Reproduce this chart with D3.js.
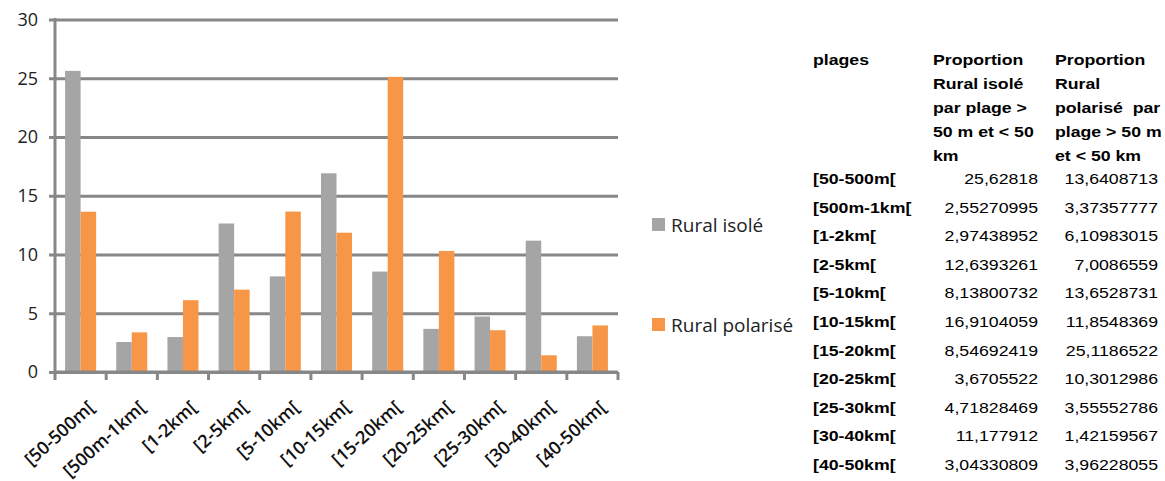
<!DOCTYPE html>
<html>
<head>
<meta charset="utf-8">
<title>Rural isolé / Rural polarisé</title>
<script src="https://d3js.org/d3.v7.min.js"></script>
<style>
  body { margin: 0; background: #fff; }
  svg text { font-family: "Open Sans", sans-serif; }
  svg text.tbl { font-family: "Liberation Sans", Arial, sans-serif; fill: #000; }
</style>
</head>
<body>
<svg id="chart" width="1165" height="481"></svg>
<script>
// data
var plages = ["[50-500m[", "[500m-1km[", "[1-2km[", "[2-5km[", "[5-10km[", "[10-15km[",
              "[15-20km[", "[20-25km[", "[25-30km[", "[30-40km[", "[40-50km["];
var ruralIsole = [25.62818, 2.55270995, 2.97438952, 12.6393261, 8.13800732, 16.9104059,
                  8.54692419, 3.6705522, 4.71828469, 11.177912, 3.04330809];
var ruralPolarise = [13.6408713, 3.37357777, 6.10983015, 7.0086559, 13.6528731, 11.8548369,
                     25.1186522, 10.3012986, 3.55552786, 1.42159567, 3.96228055];
var yTicks = [0, 5, 10, 15, 20, 25, 30];
var seriesNames = ["Rural isolé", "Rural polarisé"];
var seriesColors = ["#a5a5a5", "#f79646"];
var headPlages = ["plages"];
var headIsole = ["Proportion", "Rural isolé", "par plage >", "50 m et < 50", "km"];
var headPolarise = ["Proportion", "Rural", "polarisé  par", "plage > 50 m", "et < 50 km"];

var svg = d3.select("#chart");
svg.append("rect").attr("width", 1165).attr("height", 481).attr("fill", "#fff");

var x0 = 55, x1 = 618, yBase = 372, yTop = 19.5;

var x = d3.scaleBand().domain(plages).range([x0, x1]).paddingInner(0).paddingOuter(0);
var xs = d3.scaleBand().domain([0, 1]).range([0, x.bandwidth()]).paddingInner(0).paddingOuter(0.65);
var y = d3.scaleLinear().domain([0, 30]).range([yBase, yTop]);

// gridlines
var gy = svg.append("g").attr("transform", "translate(" + x1 + ",0)")
  .call(d3.axisLeft(y).tickValues(yTicks).tickSize(x1 - x0 + 6).tickFormat(""));
gy.select(".domain").remove();
gy.selectAll("line").attr("stroke", "#878787").attr("stroke-width", 3);

// y labels
svg.append("g").selectAll("text").data(yTicks).enter().append("text")
  .attr("x", 38).attr("y", function(d) { return y(d); })
  .attr("dy", "0.36em")
  .attr("text-anchor", "end")
  .attr("font-size", 18)
  .attr("fill", "#222")
  .text(function(d) { return d; });

// vertical axis line
svg.append("line").attr("x1", x0).attr("x2", x0).attr("y1", yTop - 1.5).attr("y2", yBase + 1.5)
  .attr("stroke", "#878787").attr("stroke-width", 3);

// bars
var groups = svg.append("g").selectAll("g").data(plages).enter().append("g")
  .attr("transform", function(d) { return "translate(" + x(d) + ",0)"; });

groups.selectAll("rect").data(function(d, i) { return [ruralIsole[i], ruralPolarise[i]]; })
  .enter().append("rect")
  .attr("x", function(d, j) { return xs(j); })
  .attr("width", xs.bandwidth())
  .attr("y", function(d) { return y(d); })
  .attr("height", function(d) { return yBase - y(d); })
  .attr("fill", function(d, j) { return seriesColors[j]; });

// x axis line and ticks
svg.append("line").attr("x1", x0).attr("x2", x1).attr("y1", yBase).attr("y2", yBase)
  .attr("stroke", "#878787").attr("stroke-width", 3);
var edges = plages.map(function(d) { return x(d); }).concat([x1]);
svg.append("g").selectAll("line").data(edges).enter().append("line")
  .attr("x1", function(d) { return d; }).attr("x2", function(d) { return d; })
  .attr("y1", yBase).attr("y2", yBase + 8)
  .attr("stroke", "#878787").attr("stroke-width", 3);

// x labels
svg.append("g").selectAll("text").data(plages).enter().append("text")
  .attr("transform", function(d) {
    return "translate(" + (x(d) + x.bandwidth() / 2 + 15) + "," + 409 + ") rotate(-42)";
  })
  .attr("text-anchor", "end")
  .attr("font-size", 18)
  .attr("font-weight", 600)
  .attr("fill", "#111")
  .text(function(d) { return d; });

// legend
var leg = svg.append("g").selectAll("g").data(seriesNames).enter().append("g")
  .attr("transform", function(d, i) { return "translate(652," + (218 + i * 100) + ")"; });
leg.append("rect").attr("width", 13).attr("height", 13)
  .attr("fill", function(d, i) { return seriesColors[i]; });
leg.append("text").attr("x", 19).attr("y", 14)
  .attr("font-size", 19).attr("fill", "#222")
  .text(function(d) { return d; });

// table (text stretched horizontally like the pasted spreadsheet)
var sx = 1.18;
var tbl = svg.append("g");
function headCol(lines, xx) {
  tbl.append("g").selectAll("text").data(lines).enter().append("text")
    .attr("class", "tbl")
    .attr("transform", function(d, i) { return "translate(" + xx + "," + (65 + i * 24) + ") scale(" + sx + ",1)"; })
    .attr("font-size", 15).attr("font-weight", "bold")
    .style("white-space", "pre")
    .text(function(d) { return d; });
}
headCol(headPlages, 813);
headCol(headIsole, 933);
headCol(headPolarise, 1055);

var rowY = function(i) { return 184 + i * 28.6; };
var fmt = function(v) { return String(v).replace(".", ","); };
tbl.append("g").selectAll("text").data(plages).enter().append("text")
  .attr("class", "tbl")
  .attr("transform", function(d, i) { return "translate(813," + rowY(i) + ") scale(" + sx + ",1)"; })
  .attr("font-size", 15).attr("font-weight", "bold")
  .text(function(d) { return d; });
tbl.append("g").selectAll("text").data(ruralIsole).enter().append("text")
  .attr("class", "tbl")
  .attr("transform", function(d, i) { return "translate(1038," + rowY(i) + ") scale(" + sx + ",1)"; })
  .attr("text-anchor", "end").attr("font-size", 15).attr("fill", "#222")
  .text(fmt);
tbl.append("g").selectAll("text").data(ruralPolarise).enter().append("text")
  .attr("class", "tbl")
  .attr("transform", function(d, i) { return "translate(1158," + rowY(i) + ") scale(" + sx + ",1)"; })
  .attr("text-anchor", "end").attr("font-size", 15).attr("fill", "#222")
  .text(fmt);
</script>
</body>
</html>
